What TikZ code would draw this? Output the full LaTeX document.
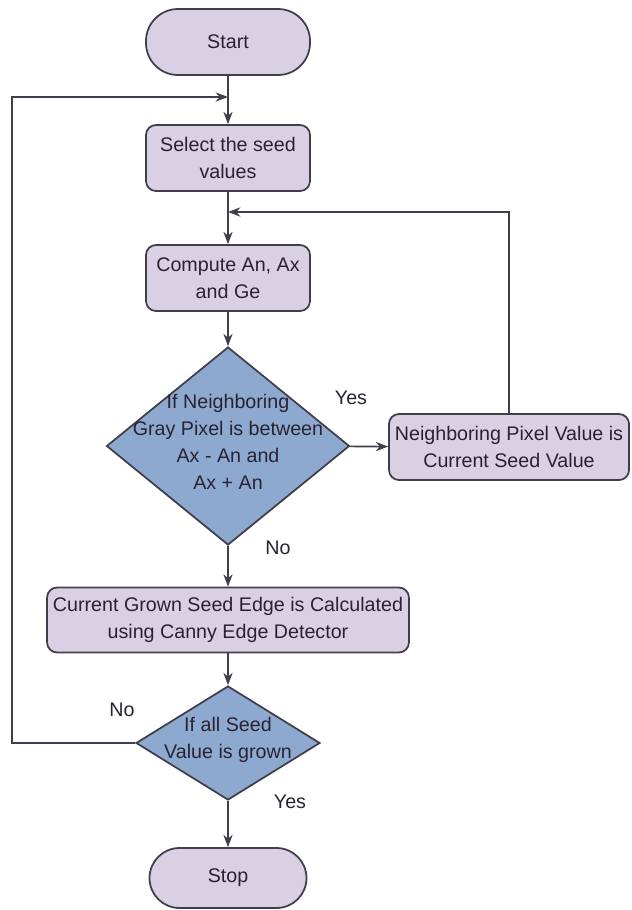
\documentclass[tikz,border=0pt]{standalone}
\usepackage{fontspec}
\setmainfont{Liberation Sans}
\usetikzlibrary{shapes.geometric}
\usetikzlibrary{arrows.meta}

\definecolor{boxfill}{RGB}{218,208,228}
\definecolor{decfill}{RGB}{142,169,208}
\definecolor{edge}{RGB}{65,62,75}
\definecolor{ink}{RGB}{40,35,50}

\begin{document}
\begin{tikzpicture}[%
  x=0.2mm, y=-0.2mm,
  >={Stealth[scale=1.0]},
  every node/.style={font=\fontsize{11.2}{15.5}\selectfont, text=ink},
  terminal/.style={draw=edge, fill=boxfill, line width=1pt,
    rounded corners=6.4mm, minimum height=13.2mm},
  process/.style={draw=edge, fill=boxfill, line width=1pt,
    rounded corners=2mm, minimum height=13.2mm, align=center},
  decision/.style={draw=edge, fill=decfill, diamond, line width=1pt,
    inner sep=0pt},
  dtext/.style={align=center},
  flow/.style={->, draw=edge, line width=0.9pt},
]

  \useasboundingbox (0,0) rectangle (631,910);

  % main column
  \node[terminal, minimum width=32.8mm] (start) at (228,42) {Start};
  \node[process, minimum width=32.8mm] (select) at (228,158)
    {Select the seed\\values};
  \node[process, minimum width=32.8mm] (compute) at (228,278)
    {Compute An, Ax\\and Ge};

  \node[decision, minimum width=48.6mm, minimum height=39.6mm] (grow)
    at (228,446) {};
  \node[dtext] (growtext) at (228,442)
    {If Neighboring\\Gray Pixel is between\\Ax - An and\\Ax + An};

  \node[process, minimum width=47.6mm] (current) at (509,447)
    {Neighboring Pixel Value is\\Current Seed Value};

  \node[process, minimum width=71.6mm, minimum height=13mm] (canny)
    at (228,620)
    {Current Grown Seed Edge is Calculated\\using Canny Edge Detector};

  \node[decision, minimum width=36.8mm, minimum height=22.8mm] (check)
    at (228,743) {};
  \node[dtext] (checktext) at (228,740) {If all Seed\\Value is grown};

  \node[terminal, minimum width=31.4mm, minimum height=12mm,
    rounded corners=6mm] (stop) at (228,878) {Stop};

  % labels
  \node (yesa) at (351,398) {Yes};
  \node (noa) at (278,548) {No};
  \node (nob) at (122,710) {No};
  \node (yesb) at (290,802) {Yes};

  % connectors
  \draw[flow] (start) -- (select);
  \draw[flow] (select) -- (compute);
  \draw[flow] (compute) -- (grow);
  \draw[flow] (grow) -- (current);
  \draw[flow] (grow) -- (canny);
  \draw[flow] (canny) -- (check);
  \draw[flow] (check) -- (stop);

  \coordinate (newseed) at (228,212);
  \coordinate (upturn) at (current.north |- newseed);
  \draw[flow] (current.north) -- (upturn) -- (newseed);

  \coordinate (loopa) at (12,743);
  \coordinate (loopb) at (12,97);
  \coordinate (seedin) at (228,97);
  \draw[flow] (check.west) -- (loopa) -- (loopb) -- (seedin);

\end{tikzpicture}
\end{document}
